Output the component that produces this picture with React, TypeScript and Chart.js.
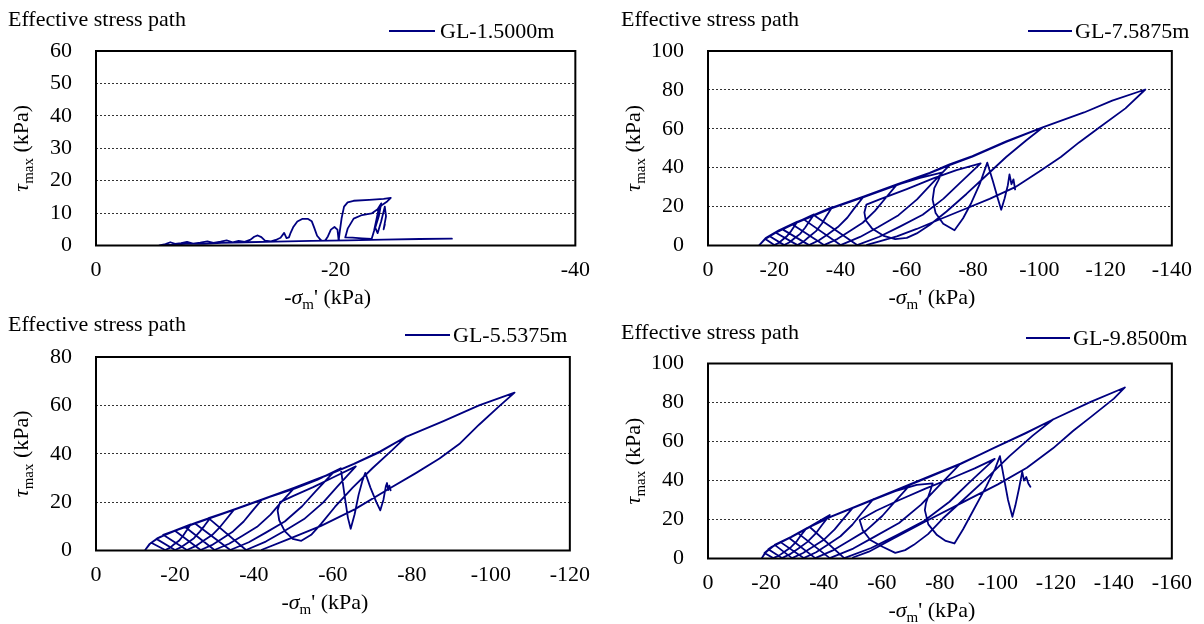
import React, { useEffect, useRef } from 'react';
import { Chart, registerables } from 'chart.js';

Chart.register(...registerables);

const SERIF = '"Liberation Serif", "Times New Roman", Times, serif';
const NAVY = '#000080';

// ---------------- data ----------------
const chartTitle = 'Effective stress path';
const depthLabels = ['GL-1.5000m', 'GL-7.5875m', 'GL-5.5375m', 'GL-9.8500m'];
const xAxisMin = [-40, -140, -120, -160];
const xAxisStep = [20, 20, 20, 20];
const yAxisMax = [60, 100, 80, 100];
const yAxisStep = [10, 20, 20, 20];

// [-sigma_m' (kPa), tau_max (kPa)]
const pathGL1_5000 = [
  [-29.7, 2.1], [-27, 2.0], [-24, 1.8], [-21, 1.6], [-18, 1.4], [-15, 1.2], [-12.5, 1.0], [-10.5, 0.8],
  [-9, 0.5], [-7.5, 0.5], [-6.4, 0.3], [-5.3, 0.05],
  [-5.8, 0.4], [-6.2, 1.0], [-6.6, 0.5], [-7.1, 0.7], [-7.6, 1.1], [-8.1, 0.6], [-8.7, 0.9], [-9.3, 1.3],
  [-9.8, 0.8], [-10.4, 1.2], [-10.9, 1.6], [-11.4, 1.0], [-11.9, 1.4], [-12.4, 1.1], [-12.9, 1.8], [-13.2, 2.7],
  [-13.5, 3.1], [-13.8, 2.6], [-14.1, 1.5], [-14.6, 1.3], [-15.0, 1.7], [-15.4, 2.4], [-15.7, 3.9], [-15.9, 2.3],
  [-16.1, 2.5], [-16.25, 4.0], [-16.45, 5.6], [-16.8, 7.4], [-17.2, 8.2], [-17.7, 8.2], [-18.0, 7.5], [-18.2, 5.6],
  [-18.45, 3.0], [-18.8, 1.5], [-19.1, 1.4], [-19.35, 2.8], [-19.6, 4.9], [-19.9, 5.7], [-20.15, 4.9], [-20.25, 1.6],
  [-20.35, 4.5], [-20.5, 8.5], [-20.7, 12.0], [-21.0, 13.3], [-21.5, 13.8], [-22.8, 14.1], [-24.0, 14.4], [-24.6, 14.7],
  [-24.3, 13.6], [-23.9, 12.6], [-23.6, 11.5], [-23.4, 8], [-23.2, 4.5], [-23.0, 2.0], [-22.2, 2.2], [-21.4, 2.4],
  [-20.8, 2.5], [-21.0, 5.2], [-21.5, 8.3], [-22.2, 9.4], [-23.0, 9.9], [-23.5, 11.2], [-23.8, 13.0], [-23.6, 9.0],
  [-23.3, 5.5], [-23.5, 3.8], [-23.8, 7.5], [-24.1, 12.0], [-24.2, 9.0], [-24.0, 5.0], [-24.1, 6.5],
];

const pathGL7_5875 = [
  [-48, 0.3], [-52, 2.2], [-57, 4.7], [-63, 8.5], [-70, 13.5], [-77, 18.4], [-85, 24], [-92.7, 30], [-100, 38],
  [-106.5, 45.5], [-112, 53], [-118, 60.5], [-126, 70.5], [-132, 80.2],
  [-122, 74.5], [-113.5, 68.4], [-101, 60.7], [-90, 53.5], [-79.8, 46], [-72.9, 41.7], [-66.9, 37.4], [-57, 31.4],
  [-47.1, 25.3], [-37.2, 19.3], [-27.3, 12.4], [-21.4, 7.8], [-17.4, 3.8], [-15.5, 0.2],
  [-17.3, 3.4], [-21.2, 7.3], [-27, 11.9], [-37, 18.9], [-47, 24.9], [-57, 31], [-66.5, 36.9], [-72.5, 41.1],
  [-79.8, 45.7], [-90, 53.2], [-101, 60.7],
  [-96, 54], [-90, 45.5], [-84, 36], [-78, 26.5], [-72, 17.5], [-67, 10.7], [-63, 6.2], [-60, 3.9], [-56.5, 3.3],
  [-53, 5], [-49.5, 8.8], [-47.6, 13], [-47.2, 17], [-47.8, 21],
  [-52, 23.8], [-60, 29], [-68, 34.5], [-75, 38.8], [-82.3, 42.2],
  [-76, 32.1], [-71.1, 24.1], [-64.8, 15.8], [-57.9, 9.7], [-51.7, 4.5], [-45, 0.2],
  [-32, 15.6],
  [-37.2, 19.2], [-47.1, 25.2], [-57, 31.3], [-66.8, 37.2], [-73, 41.5],
  [-67.4, 31.5], [-63.1, 23.7], [-57.5, 15.6], [-51.4, 9.5], [-45.9, 4.4], [-40, 0.2],
  [-29, 13.3],
  [-37.2, 19.2], [-47.1, 25.2], [-57, 31.3],
  [-53.3, 23.8], [-50.4, 17.8], [-46.7, 11.7], [-42.6, 7.2], [-39, 3.3], [-35, 0.2],
  [-25.5, 10.8],
  [-27.3, 12.2], [-37.2, 19.1], [-47, 25.2],
  [-44.2, 19.2], [-42.1, 14.4], [-39.2, 9.5], [-36.2, 5.8], [-33.5, 2.7], [-30.5, 0.2],
  [-22.5, 8.3],
  [-27.3, 12.3], [-37.5, 19.8],
  [-35.7, 15], [-34.4, 11.3], [-32.6, 7.4], [-30.6, 4.6], [-28.9, 2.1], [-27, 0.2],
  [-20.5, 6.6],
  [-27.3, 12.3], [-32, 16],
  [-30.5, 12.2], [-29.3, 9.1], [-27.8, 6], [-26.1, 3.7], [-24.6, 1.7], [-23, 0.2],
  [-18.5, 4.9],
  [-21.4, 7.8], [-27, 12.3],
  [-25.8, 9.3], [-24.9, 7], [-23.7, 4.6], [-22.4, 2.8], [-21.3, 1.3], [-20, 0.2],
  [-17.2, 3.5],
  [-21.4, 7.8], [-27.3, 12.4], [-37.2, 19.3], [-47.1, 25.3], [-57, 31.1], [-64, 34.8], [-70.5, 37.5],
  [-69.5, 33.5], [-68.3, 29.5], [-67.8, 23.6], [-68.7, 16.7], [-71, 11.2], [-74.4, 7.8],
  [-77, 14], [-79.5, 22], [-82, 31.5], [-84.3, 42.6],
  [-86, 33], [-87.5, 24], [-88.5, 18.4],
  [-89.5, 24], [-90.5, 31], [-91, 36.6], [-91.6, 31.5], [-92.2, 34], [-92.7, 28.8],
];

const pathGL5_5375 = [
  [-42, 0.3], [-48.6, 4.6], [-57, 10.2], [-65.5, 17], [-74, 25.3], [-81, 32], [-87, 38], [-92, 44], [-97, 52],
  [-102, 59.5], [-106, 65.3],
  [-97, 60], [-88, 53.5], [-78.5, 47], [-72, 41], [-65.3, 35.8], [-58, 30.8], [-50.3, 26], [-41.9, 21], [-33.6, 16.2],
  [-25.2, 11.4], [-19.3, 7.8], [-15.5, 5], [-13.5, 2.6], [-12.5, 0.3],
  [-13.8, 3], [-16, 5.4], [-19.8, 8], [-25.5, 11.4], [-34, 16.3], [-42.5, 21.2], [-51, 26.4], [-58.5, 31],
  [-65.5, 35.9], [-72, 40.8], [-78.5, 47],
  [-75, 41.5], [-70, 34], [-65, 26], [-60.5, 18], [-57, 11], [-54.5, 6.5], [-52, 4], [-49.8, 4.8], [-47.8, 8],
  [-46.4, 12.5], [-46, 16.5], [-46.6, 20],
  [-50, 22.6], [-55, 26.2], [-60, 30.2], [-65.8, 34.8],
  [-61.1, 26.4], [-57.5, 19.8], [-52.7, 13], [-47.6, 8], [-43, 3.7], [-38, 0.2],
  [-28.5, 13.4],
  [-33.6, 16.2], [-41.9, 21], [-50.3, 26], [-60, 32.1],
  [-55.6, 24.4], [-52.2, 18.3], [-47.8, 12], [-43, 7.4], [-38.7, 3.4], [-34, 0.2],
  [-25, 11.3],
  [-33.6, 16.2], [-41.9, 21], [-50.3, 26],
  [-46.8, 19.8], [-44.2, 14.8], [-40.8, 9.8], [-37, 6], [-33.7, 2.8], [-30, 0.2],
  [-22.5, 9.8],
  [-25.2, 11.4], [-33.6, 16.2], [-42, 21],
  [-39.4, 16], [-37.4, 12], [-34.7, 7.9], [-31.8, 4.8], [-29.3, 2.2], [-26.5, 0.2],
  [-20, 8.2],
  [-25.2, 11.4], [-35, 17],
  [-33, 12.9], [-31.4, 9.7], [-29.4, 6.4], [-27.1, 3.9], [-25.2, 1.8], [-23, 0.2],
  [-17, 6.5],
  [-19.3, 7.8], [-25.2, 11.4], [-29, 13.6],
  [-27.5, 10.3], [-26.3, 7.8], [-24.8, 5.1], [-23.1, 3.1], [-21.6, 1.4], [-20, 0.2],
  [-15.3, 4.8],
  [-19.3, 7.8], [-24, 10.8],
  [-22.9, 8.2], [-22.1, 6.2], [-21, 4], [-19.7, 2.5], [-18.7, 1.1], [-17.5, 0.2],
  [-14, 3.2],
  [-15.5, 5], [-19.3, 7.8], [-25.2, 11.4], [-33.6, 16.2], [-41.9, 21], [-50.3, 25.6], [-56, 29.2], [-62, 34],
  [-62.5, 28], [-63.2, 20], [-63.8, 13.5], [-64.5, 9],
  [-65.5, 15], [-66.5, 23], [-67.5, 29], [-68.2, 32.1],
  [-69.5, 26], [-71, 20], [-72, 16.6],
  [-72.8, 21], [-73.4, 26.5], [-73.7, 27.9], [-74, 25], [-74.3, 26.8], [-74.6, 24.9],
];

const pathGL9_8500 = [
  [-50, 0.5], [-55.5, 3.5], [-63, 9.5], [-75, 19], [-87.5, 28.5], [-100, 38], [-110, 46.5], [-119, 56.5],
  [-126, 65.5], [-132, 72.5], [-140, 82], [-143.8, 87.7],
  [-132, 80.3], [-119, 71.3], [-109.5, 64.1], [-98.3, 56.4], [-87.1, 48.7], [-75.9, 41.9], [-64.6, 35], [-53.4, 28.2],
  [-42.2, 21.4], [-35, 16.3], [-28.7, 11.1], [-22, 6], [-19.5, 2.5], [-18.6, 0.3],
  [-19.8, 3], [-22.5, 6.3], [-29, 11.2], [-35.5, 16.4], [-42.5, 21.4], [-53.5, 28], [-64.6, 34.8], [-76, 41.6],
  [-87, 48.4], [-98.5, 56.6], [-109.5, 64.3], [-119, 71.3],
  [-112, 63], [-104, 52.5], [-96, 41], [-88, 30], [-81, 20.5], [-75.9, 12.5], [-71, 7], [-68, 4.3], [-64.6, 2.9],
  [-60.2, 6], [-56, 9.5], [-53.4, 14.5], [-52.3, 19.7],
  [-58, 24.5], [-66, 30], [-75, 35.8], [-85, 41.8], [-92, 46.2], [-98.9, 51.1],
  [-90, 38.8], [-83.3, 29.1], [-74.5, 19.2], [-64.9, 11.8], [-56.3, 5.4], [-47, 0.2],
  [-35, 16.3],
  [-42.2, 21.4], [-53.4, 28.2], [-64.6, 35], [-75.9, 41.9], [-87, 48.5],
  [-79.4, 36.9], [-73.5, 27.6], [-65.9, 18.2], [-57.5, 11.2], [-50.1, 5.1], [-42, 0.2],
  [-31, 13],
  [-35, 16.3], [-42.2, 21.4], [-53.4, 28.2], [-64.6, 35], [-70, 38.2],
  [-64.4, 29], [-60.1, 21.8], [-54.5, 14.3], [-48.4, 8.8], [-42.9, 4], [-37, 0.2],
  [-28, 10.5],
  [-35, 16.3], [-42.2, 21.4], [-53.4, 28.2], [-57, 30.4],
  [-52.9, 23.1], [-49.8, 17.3], [-45.7, 11.4], [-41.3, 7], [-37.3, 3.2], [-33, 0.2],
  [-25, 8.4],
  [-28.7, 11.1], [-35, 16.3], [-42.2, 21.4], [-50, 26.1],
  [-46.4, 19.8], [-43.7, 14.9], [-40.1, 9.8], [-36.2, 6], [-32.8, 2.8], [-29, 0.2],
  [-23, 7],
  [-28.7, 11.1], [-35, 16.3], [-42, 22.3],
  [-39.2, 16.9], [-37.1, 12.7], [-34.2, 8.4], [-31.2, 5.1], [-28.5, 2.4], [-25.5, 0.2],
  [-20.8, 4.8],
  [-22, 6], [-28.7, 11.1], [-34, 15.5],
  [-32, 11.8], [-30.6, 8.8], [-28.6, 5.8], [-26.5, 3.6], [-24.6, 1.6], [-22.5, 0.2],
  [-19.5, 2.8],
  [-22, 6], [-28.7, 11.1], [-35, 16.3], [-42.2, 21.4], [-53.4, 28], [-64.6, 34.5], [-72, 37.8], [-77.5, 38.5],
  [-76.5, 34], [-75.2, 28.5], [-74.8, 24.8], [-76, 17.5], [-79, 12], [-82, 9], [-85, 7.7],
  [-88, 15], [-92, 26], [-96, 37], [-99, 46], [-100.7, 52.5],
  [-102, 42], [-103.5, 30], [-105, 21.4],
  [-106, 27], [-107.3, 36], [-108.4, 44.4], [-109, 40], [-109.8, 41.8], [-110.5, 38.5], [-111.2, 36.8],
];

const panelPaths = [pathGL1_5000, pathGL7_5875, pathGL5_5375, pathGL9_8500];

// ---------------- layout (canvas pixels) ----------------
const CW = 602;
const CH = 312;
const Y_AXIS_W = 80;
const X_AXIS_H = 40;

const panelLayout = [
  { left: 0, top: 0, area: { l: 96, r: 576, t: 51, b: 245.5 }, titleX: 8, titleY: 26, legX1: 389, legX2: 435, legTextX: 440, legY: 38 },
  { left: 602, top: 0, area: { l: 106, r: 581, t: 51, b: 245.5 }, titleX: 19, titleY: 26, legX1: 426, legX2: 470, legTextX: 473, legY: 38 },
  { left: 0, top: 312, area: { l: 96, r: 575, t: 45, b: 238.5 }, titleX: 8, titleY: 19, legX1: 405, legX2: 450, legTextX: 453, legY: 30 },
  { left: 602, top: 312, area: { l: 106, r: 581, t: 51.5, b: 246.5 }, titleX: 19, titleY: 27, legX1: 424, legX2: 468, legTextX: 471, legY: 33 },
];

type Part = { t: string; f: string; dy: number };

function drawRich(ctx: CanvasRenderingContext2D, parts: Part[], cx: number, cy: number, rotate: boolean) {
  ctx.save();
  ctx.translate(cx, cy);
  if (rotate) ctx.rotate(-Math.PI / 2);
  let total = 0;
  for (const p of parts) {
    ctx.font = p.f;
    total += ctx.measureText(p.t).width;
  }
  let x = -total / 2;
  ctx.textAlign = 'left';
  ctx.textBaseline = 'alphabetic';
  for (const p of parts) {
    ctx.font = p.f;
    ctx.fillText(p.t, x, p.dy);
    x += ctx.measureText(p.t).width;
  }
  ctx.restore();
}

const decorPlugin = {
  id: 'decor',
  afterDraw(chart: any, _args: any, opts: any) {
    const ctx: CanvasRenderingContext2D = chart.ctx;
    const a = chart.chartArea;
    const ds = chart.data.datasets[0];
    ctx.save();
    ctx.strokeStyle = '#000';
    ctx.lineWidth = 2;
    ctx.strokeRect(a.left, a.top, a.right - a.left, a.bottom - a.top);
    ctx.fillStyle = '#000';
    ctx.font = `22px ${SERIF}`;
    ctx.textAlign = 'left';
    ctx.textBaseline = 'alphabetic';
    ctx.fillText(opts.title, opts.titleX, opts.titleY);
    ctx.strokeStyle = ds.borderColor;
    ctx.lineWidth = 2;
    ctx.beginPath();
    ctx.moveTo(opts.legX1, opts.legY - 7);
    ctx.lineTo(opts.legX2, opts.legY - 7);
    ctx.stroke();
    ctx.fillText(ds.label, opts.legTextX, opts.legY);
    const main = `22px ${SERIF}`;
    const ital = `italic 22px ${SERIF}`;
    const sub = `15px ${SERIF}`;
    drawRich(
      ctx,
      [
        { t: '-', f: main, dy: 0 },
        { t: 'σ', f: ital, dy: 0 },
        { t: 'm', f: sub, dy: 5 },
        { t: "' (kPa)", f: main, dy: 0 },
      ],
      (a.left + a.right) / 2 - 8,
      a.bottom + 58,
      false
    );
    drawRich(
      ctx,
      [
        { t: 'τ', f: ital, dy: 0 },
        { t: 'max', f: sub, dy: 5 },
        { t: ' (kPa)', f: main, dy: 0 },
      ],
      a.left - 68,
      (a.top + a.bottom) / 2,
      true
    );
    ctx.restore();
  },
};

function Panel({ index }: { index: number }) {
  const ref = useRef<HTMLCanvasElement | null>(null);
  useEffect(() => {
    const canvas = ref.current;
    if (!canvas) return;
    const L = panelLayout[index];
    const yMax = yAxisMax[index];
    const tickFont = { family: SERIF, size: 22 };
    const chart = new Chart(canvas, {
      type: 'scatter',
      data: {
        datasets: [
          {
            label: depthLabels[index],
            data: panelPaths[index].map(([x, y]) => ({ x, y })),
            showLine: true,
            borderColor: NAVY,
            backgroundColor: NAVY,
            borderWidth: 1.8,
            pointRadius: 0,
            pointHoverRadius: 0,
            tension: 0,
            borderJoinStyle: 'round',
            borderCapStyle: 'round',
          } as any,
        ],
      },
      options: {
        responsive: false,
        animation: false,
        devicePixelRatio: 1,
        events: [],
        layout: {
          padding: {
            left: L.area.l - Y_AXIS_W,
            top: L.area.t,
            right: CW - L.area.r,
            bottom: CH - L.area.b - X_AXIS_H,
          },
        },
        plugins: {
          legend: { display: false },
          title: { display: false },
          tooltip: { enabled: false },
          decor: {
            title: chartTitle,
            titleX: L.titleX,
            titleY: L.titleY,
            legX1: L.legX1,
            legX2: L.legX2,
            legTextX: L.legTextX,
            legY: L.legY,
          },
        } as any,
        scales: {
          x: {
            type: 'linear',
            reverse: true,
            min: xAxisMin[index],
            max: 0,
            ticks: { stepSize: xAxisStep[index], font: tickFont, color: '#000', padding: 12, maxRotation: 0, autoSkip: false },
            grid: { display: false, drawTicks: false },
            border: { display: false },
            afterFit: (s: any) => {
              s.height = X_AXIS_H;
            },
          },
          y: {
            type: 'linear',
            min: 0,
            max: yMax,
            ticks: { stepSize: yAxisStep[index], font: tickFont, color: '#000', padding: 24 },
            grid: {
              drawTicks: false,
              lineWidth: 1,
              color: (c: any) => (c.tick && (c.tick.value === 0 || c.tick.value === yMax) ? 'rgba(0,0,0,0)' : '#333'),
            },
            border: { display: false, dash: [2, 2] },
            afterFit: (s: any) => {
              s.width = Y_AXIS_W;
            },
          },
        } as any,
      },
      plugins: [decorPlugin as any],
    });
    return () => chart.destroy();
  }, [index]);
  const L = panelLayout[index];
  return (
    <canvas
      ref={ref}
      width={CW}
      height={CH}
      style={{ position: 'absolute', left: L.left, top: L.top, width: CW, height: CH }}
    />
  );
}

export default function App() {
  return (
    <div style={{ position: 'absolute', left: 0, top: 0, width: 1204, height: 624, background: '#fff', overflow: 'hidden' }}>
      {[0, 1, 2, 3].map((i) => (
        <Panel key={i} index={i} />
      ))}
    </div>
  );
}
